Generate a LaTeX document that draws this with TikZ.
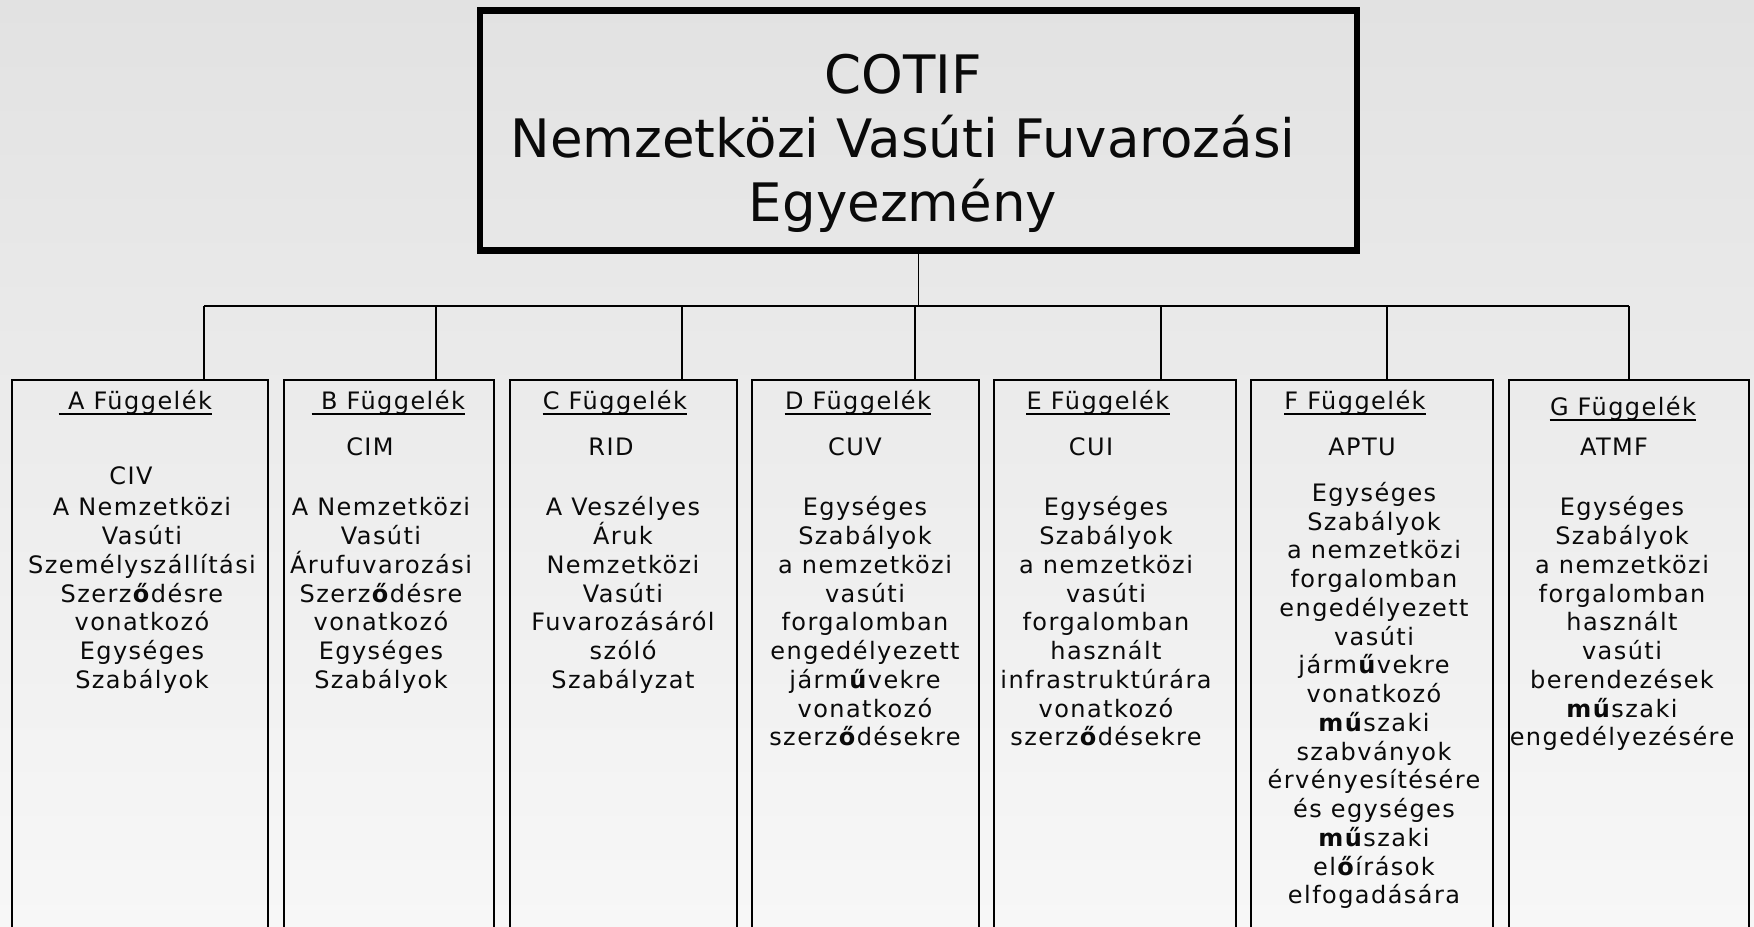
\documentclass[tikz,border=0pt]{standalone}
\usepackage{fontspec}
\setmainfont{DejaVu Sans}
\newfontfamily\bodyfont[LetterSpace=6]{DejaVu Sans}
\usetikzlibrary{calc}
\definecolor{bgtop}{RGB}{226,226,226}
\definecolor{bgbot}{RGB}{247,247,247}
\definecolor{ink}{RGB}{10,10,10}
\newcommand\myfs{\rule{0pt}{10pt}}
\newcommand\mytfs{\rule{0pt}{22pt}}
\begin{document}
\begin{tikzpicture}[x=0.5pt,y=-0.5pt,
  bfont/.style={font=\bodyfont\fontsize{12}{14.37}\selectfont, text=ink},
  boxstyle/.style={draw=black, line width=0.9pt, inner sep=0pt, minimum height=290pt},
  hdr/.style={bfont, inner sep=0pt, anchor=base},
  codelbl/.style={bfont, inner sep=0pt, anchor=base},
  bodytxt/.style={bfont, align=center, inner sep=0pt, anchor=north},
  conn/.style={line width=0.9pt, draw=black},
  uline/.style={line width=1pt, draw=black}]
\path[use as bounding box] (0,0) rectangle (1754,926);
\clip (0,0) rectangle (1754,926);
\shade[top color=bgtop, bottom color=bgbot] (0,0) rectangle (1754,926);

% top box
\node[draw=black, line width=3.3pt, minimum width=438.5pt, minimum height=120pt, inner sep=0pt] (top) at (918.5,130.5) {};
\node[font=\fontsize{26.5}{32}\selectfont, text=ink, align=center, inner sep=0pt, anchor=north] (title) at (903,49) {\mytfs COTIF\\Nemzetközi Vasúti Fuvarozási\\Egyezmény};

% child boxes
\node[boxstyle, minimum width=128pt] (bA) at (140,670) {};
\node[boxstyle, minimum width=105pt] (bB) at (389,670) {};
\node[boxstyle, minimum width=113.5pt] (bC) at (623.5,670) {};
\node[boxstyle, minimum width=113.5pt] (bD) at (865.5,670) {};
\node[boxstyle, minimum width=121pt] (bE) at (1115,670) {};
\node[boxstyle, minimum width=121pt] (bF) at (1372,670) {};
\node[boxstyle, minimum width=120pt] (bG) at (1629,670) {};

% connectors
\coordinate (jA) at (204,306);
\coordinate (jB) at (436,306);
\coordinate (jC) at (682,306);
\coordinate (jD) at (915,306);
\coordinate (jE) at (1161,306);
\coordinate (jF) at (1387,306);
\coordinate (jG) at (1629,306);
\draw[conn] (top.south) -- (top.south |- jA);
\draw[conn] (jA) -- (jG);
\foreach \n in {A,B,C,D,E,F,G}{
  \draw[conn] (j\n) -- (j\n |- b\n.north);
}

% headers
\node[hdr] (hA) at (140,409.5) {A Függelék};
\node[hdr] (hB) at (393,409.5) {B Függelék};
\node[hdr] (hC) at (615,409.5) {C Függelék};
\node[hdr] (hD) at (858,409.5) {D Függelék};
\node[hdr] (hE) at (1098,409.5) {E Függelék};
\node[hdr] (hF) at (1355,409.5) {F Függelék};
\node[hdr] (hG) at (1623,415) {G Függelék};
\draw[uline] ($(hA.base west)+(-9,4.5)$) -- ($(hA.base east)+(0,4.5)$);
\draw[uline] ($(hB.base west)+(-9,4.5)$) -- ($(hB.base east)+(0,4.5)$);
\foreach \n in {C,D,E,F,G}{
  \draw[uline] ($(h\n.base west)+(0,4.5)$) -- ($(h\n.base east)+(0,4.5)$);
}

% code labels
\node[codelbl] (cA) at (131,484) {CIV};
\node[codelbl] (cB) at (370,455) {CIM};
\node[codelbl] (cC) at (611,455) {RID};
\node[codelbl] (cD) at (855,455) {CUV};
\node[codelbl] (cE) at (1091,455) {CUI};
\node[codelbl] (cF) at (1362,455) {APTU};
\node[codelbl] (cG) at (1614,455) {ATMF};

% body texts
\node[bodytxt] (tA) at (142,495.5) {\myfs A Nemzetközi\\Vasúti\\Személyszállítási\\Szerz\textbf{ő}désre\\vonatkozó\\Egységes\\Szabályok};
\node[bodytxt] (tB) at (381,495.5) {\myfs A Nemzetközi\\Vasúti\\Árufuvarozási\\Szerz\textbf{ő}désre\\vonatkozó\\Egységes\\Szabályok};
\node[bodytxt] (tC) at (623,495.5) {\myfs A Veszélyes\\Áruk\\Nemzetközi\\Vasúti\\Fuvarozásáról\\szóló\\Szabályzat};
\node[bodytxt] (tD) at (865,495.5) {\myfs Egységes\\Szabályok\\a nemzetközi\\vasúti\\forgalomban\\engedélyezett\\járm\textbf{ű}vekre\\vonatkozó\\szerz\textbf{ő}désekre};
\node[bodytxt] (tE) at (1106,495.5) {\myfs Egységes\\Szabályok\\a nemzetközi\\vasúti\\forgalomban\\használt\\infrastruktúrára\\vonatkozó\\szerz\textbf{ő}désekre};
\node[bodytxt] (tF) at (1374,481) {\myfs Egységes\\Szabályok\\a nemzetközi\\forgalomban\\engedélyezett\\vasúti\\járm\textbf{ű}vekre\\vonatkozó\\\textbf{mű}szaki\\szabványok\\érvényesítésére\\és egységes\\\textbf{mű}szaki\\el\textbf{ő}írások\\elfogadására};
\node[bodytxt] (tG) at (1622,495.5) {\myfs Egységes\\Szabályok\\a nemzetközi\\forgalomban\\használt\\vasúti\\berendezések\\\textbf{mű}szaki\\engedélyezésére};
\end{tikzpicture}
\end{document}
